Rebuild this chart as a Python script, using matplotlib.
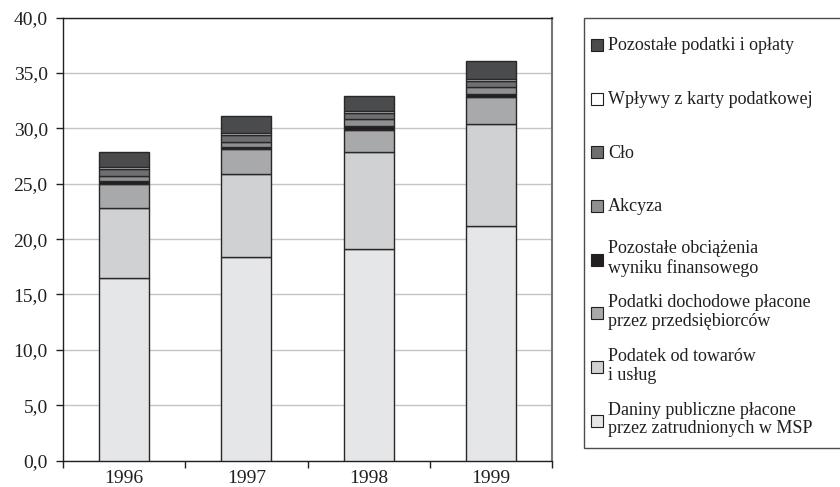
import matplotlib
matplotlib.use("Agg")
import matplotlib.pyplot as plt
from matplotlib.patches import Rectangle
from matplotlib.legend_handler import HandlerPatch
from matplotlib.ticker import FixedLocator, FuncFormatter
import numpy as np

plt.rcParams['font.family'] = ['Liberation Serif', 'DejaVu Serif']

years = ["1996", "1997", "1998", "1999"]

series_names = [
    "Daniny publiczne płacone\nprzez zatrudnionych w MSP",
    "Podatek od towarów\ni usług",
    "Podatki dochodowe płacone\nprzez przedsiębiorców",
    "Pozostałe obciążenia\nwyniku finansowego",
    "Akcyza",
    "Cło",
    "Wpływy z karty podatkowej",
    "Pozostałe podatki i opłaty",
]

msp        = [16.49, 18.41, 19.13, 21.21]
towary     = [6.29, 7.44, 8.71, 9.19]
dochodowe  = [2.20, 2.26, 2.02, 2.46]
pozost_obc = [0.24, 0.24, 0.36, 0.22]
akcyza     = [0.48, 0.45, 0.60, 0.63]
clo        = [0.63, 0.60, 0.60, 0.57]
karta      = [0.21, 0.16, 0.18, 0.18]
pozost_pod = [1.36, 1.56, 1.35, 1.66]

series_values = [msp, towary, dochodowe, pozost_obc, akcyza, clo, karta, pozost_pod]
colors = ["#e5e6e8", "#d0d1d3", "#a8a9ab", "#231f20", "#8f9092", "#6e6f71", "#ffffff", "#4a4b4d"]

yticks = [0, 5, 10, 15, 20, 25, 30, 35, 40]

fig = plt.figure(figsize=(8.4, 4.87), dpi=100)
ax = fig.add_axes([63/840, 1-460.5/487, (552-63)/840, (460.5-17.7)/487])

x = np.arange(len(years))
bottom = np.zeros(len(years))
proxies = []
for name, vals, col in zip(series_names, series_values, colors):
    ax.bar(x, vals, width=0.41, bottom=bottom, color=col, edgecolor="#2a2728",
           linewidth=1.0, label=name, zorder=3)
    proxies.append(Rectangle((0, 0), 1, 1, facecolor=col, edgecolor="#231f20", linewidth=0.8))
    bottom += np.array(vals)

ax.set_xlim(-0.5, 3.5)
ax.set_ylim(0, 40)
ax.set_yticks(yticks)
ax.yaxis.set_major_formatter(FuncFormatter(lambda v, p: f"{v:.1f}".replace(".", ",")))
ax.grid(axis="y", color="#c4c4c4", linewidth=1.0, zorder=0)
ax.set_xticks(x)
ax.set_xticklabels(years)
ax.xaxis.set_minor_locator(FixedLocator([-0.5, 0.5, 1.5, 2.5, 3.5]))
ax.tick_params(axis="x", which="major", length=0, pad=7, labelsize=14, colors="#231f20")
ax.tick_params(axis="x", which="minor", length=5, width=1, color="#231f20", direction="out")
ax.tick_params(axis="y", length=5, width=1, color="#231f20", labelsize=14, pad=6,
               labelcolor="#231f20")
for s in ["left", "bottom", "top"]:
    ax.spines[s].set_color("#231f20")
    ax.spines[s].set_linewidth(1.0)
ax.spines["right"].set_color("#777777")
ax.spines["right"].set_linewidth(1.5)


def make_square(legend, orig_handle, xdescent, ydescent, width, height, fontsize):
    s = 12 * 72 / 100
    return Rectangle((-xdescent + (width - s) / 2, -ydescent + (height - s) / 2), s, s)


leg = fig.legend(proxies[::-1], series_names[::-1], loc="upper left",
                 bbox_to_anchor=(584/840, 0, 270/840, 1-18/487), mode="expand",
                 frameon=True, fancybox=False,
                 fontsize=13, handleheight=3.0, handlelength=0.7, handletextpad=0.25,
                 labelspacing=0.78, borderpad=0.39, borderaxespad=0,
                 handler_map={Rectangle: HandlerPatch(patch_func=make_square)})
leg.get_frame().set_edgecolor("#231f20")
leg.get_frame().set_linewidth(1.0)
for t in leg.get_texts():
    t.set_color("#231f20")
    t.set_linespacing(1.12)

fig.savefig("out.png", dpi=100)
